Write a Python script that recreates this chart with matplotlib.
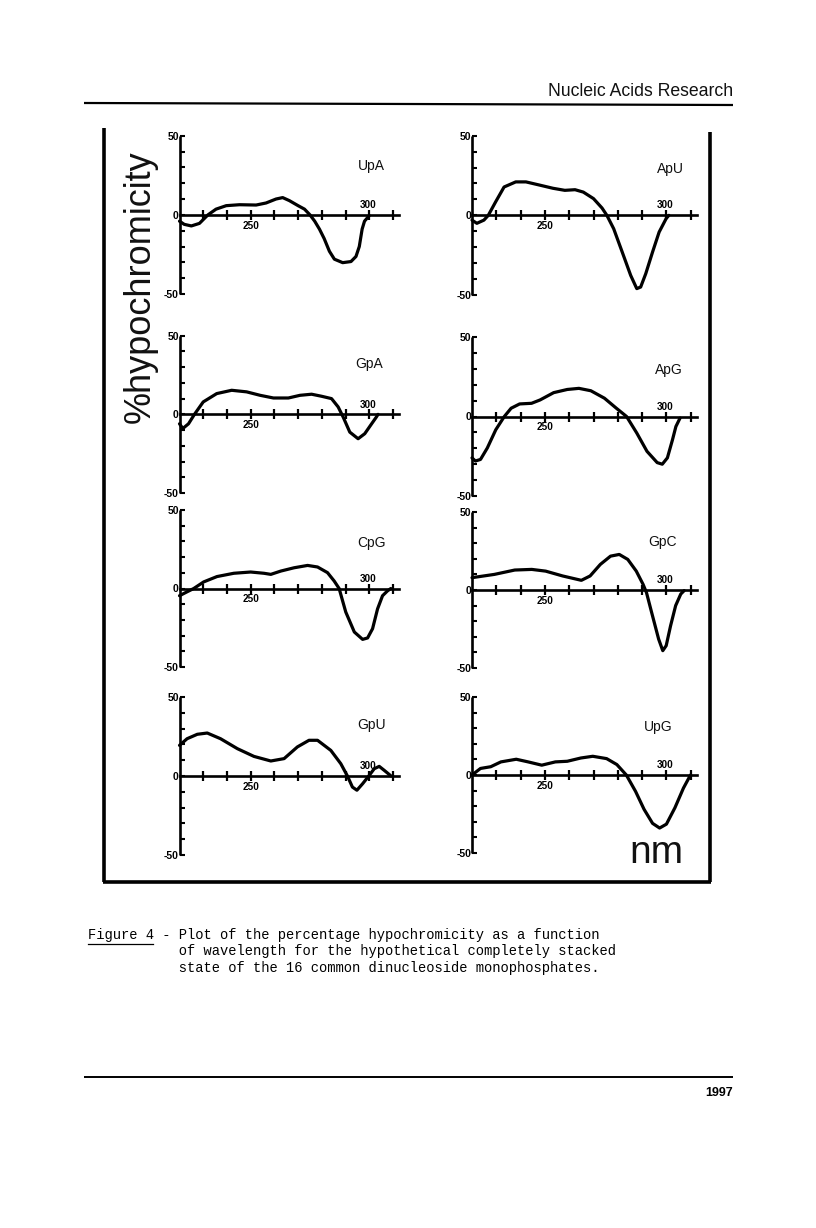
import matplotlib
matplotlib.use("Agg")
import matplotlib.pyplot as plt

# ---------------- data (wavelength in nm, % hypochromicity) ----------------
panel_names = ["UpA", "ApU", "GpA", "ApG", "CpG", "GpC", "GpU", "UpG"]

upa_nm = [220, 222, 225, 228.4, 232, 235.4, 239.7, 245.3, 252.3, 256.5, 260.7, 263.5, 266.3, 270, 272.7,
          275, 277, 279, 281, 283.2, 285.3, 288.8, 292.3, 294.4, 295.8, 297, 298, 300]
upa_pct = [-4, -6, -7, -5.4, 0, 3.6, 5.8, 6.4, 6.2, 7.5, 10, 10.9, 9, 5.8, 3.6,
           0, -4, -9, -15, -23, -28, -30.2, -29.5, -26.3, -20, -9, -4, -0.5]

apu_nm = [220, 222, 224.9, 226.7, 229.7, 233.2, 238, 242.2, 247.8, 253.3, 258.2, 262.4, 265.8, 270, 273.5,
          275.5, 278.3, 281.8, 285.3, 287.8, 289.4, 291.5, 294.3, 297, 299.9, 301]
apu_pct = [-3, -5, -3, 0, 8.4, 17.8, 21, 21, 19, 17, 15.7, 16.1, 14.6, 10.5, 4.6,
           0, -8.4, -23, -37.7, -46, -45, -36.6, -23, -10.5, -2, 0]

gpa_nm = [220, 221.4, 223.8, 226.3, 230, 235.7, 242, 248.3, 254, 259.6, 265.9, 270.8, 275.7, 279.9, 284.1,
          286.9, 289, 291.8, 295.3, 298.1, 301, 303, 303.7]
gpa_pct = [-6, -9, -6, 0, 7.9, 13.2, 15.3, 14.3, 12.1, 10.4, 10.4, 12.1, 12.8, 11.5, 10,
           4.7, -1.7, -11.3, -15.5, -12.3, -6, -1.7, 0]

apg_nm = [220, 221.4, 223.5, 226.3, 229.8, 233.3, 236.1, 239.6, 244.5, 248, 253.6, 259.2, 264, 268.9, 274.5,
          279.4, 283.6, 287.8, 292, 296.2, 298.3, 300.4, 302.5, 303.9, 305.6]
apg_pct = [-26, -28, -27, -19.8, -8.3, 0, 5.2, 7.9, 8.3, 10.4, 15, 17, 17.7, 16.2, 11.5,
           5.2, 0, -10.4, -21.9, -29, -30, -26, -14.6, -6.3, -1]

cpg_nm = [220, 223.2, 226, 230.2, 235.8, 242.9, 250, 255.6, 258.5, 262.7, 268.3, 274, 278.2, 282.4, 285.2,
          287.3, 290.1, 293.7, 297.2, 299.3, 301.4, 303.5, 305.6, 307.7, 309.1]
cpg_pct = [-4.6, -2.1, 0, 4.2, 7.6, 9.7, 10.5, 9.7, 9, 11.1, 13.2, 14.7, 13.7, 10.1, 4.8,
           0, -15, -27.7, -32.4, -31.5, -25.6, -13, -4.6, -1.5, 0]

gpc_nm = [220, 229.2, 237.6, 244.6, 250.3, 257.3, 265, 268.6, 272.8, 277, 280.6, 284.1, 287.6, 290.4, 291.8,
          293.9, 296.8, 298.5, 299.9, 301.7, 303.8, 305.9, 307.3]
gpc_pct = [7.9, 10, 12.8, 13.2, 12.1, 9, 6.2, 9, 16.4, 21.7, 22.8, 19.6, 12.1, 3.6, -1.7,
           -14.3, -31.5, -38.9, -35.7, -23, -10, -2.6, -0.4]

gpu_nm = [220, 223.2, 227.5, 231.7, 237.3, 244.4, 251.4, 258.5, 264.1, 269.7, 274.6, 278.2, 283.8, 288, 290.8,
          292.9, 294.8, 297.2, 300, 302.1, 304.2, 306.3, 309.2]
gpu_pct = [19.4, 23.6, 26.4, 27.2, 23.6, 17.3, 12.4, 9.5, 11, 18.4, 22.6, 22.6, 16.2, 7.8, 0,
           -7, -9, -4.9, 0.4, 4.6, 6.1, 3.6, 0]

upg_nm = [220, 223.5, 227.7, 231.9, 238.2, 243.1, 248.7, 254.3, 259.2, 264.8, 269.7, 275.4, 279.6, 283.5,
          287.3, 290.8, 294.3, 297.2, 300, 303.5, 307, 309.9]
upg_pct = [0, 4.2, 5.3, 8.4, 10.1, 8.4, 6.3, 8.4, 8.8, 10.9, 12, 10.5, 6.7, 0,
           -10.5, -22, -31, -34, -31.5, -21, -8.4, 0]

x_ticks = [230, 240, 250, 260, 270, 280, 290, 300, 310]
x_tick_labels = {250: "250", 300: "300"}
y_ticks = [-50, -40, -30, -20, -10, 0, 10, 20, 30, 40, 50]
y_tick_labels = ["-50", "", "", "", "", "0", "", "", "", "", "50"]

series = [(upa_nm, upa_pct), (apu_nm, apu_pct), (gpa_nm, gpa_pct), (apg_nm, apg_pct),
          (cpg_nm, cpg_pct), (gpc_nm, gpc_pct), (gpu_nm, gpu_pct), (upg_nm, upg_pct)]

caption_lines = [
    "Figure 4 - Plot of the percentage hypochromicity as a function",
    "           of wavelength for the hypothetical completely stacked",
    "           state of the 16 common dinucleoside monophosphates.",
]

# ---------------- figure ----------------
W, H = 816, 1228
fig = plt.figure(figsize=(W / 100, H / 100), dpi=100)
fig.patch.set_facecolor("white")

SANS = ["Liberation Sans", "DejaVu Sans"]

# overlay in pixel coordinates for page furniture
page = fig.add_axes([0, 0, 1, 1])
page.set_xlim(0, W)
page.set_ylim(H, 0)
page.axis("off")

# header
page.text(733, 91, "Nucleic Acids Research", ha="right", va="center", fontsize=12.7,
          family=SANS, color="#111111")
page.plot([84, 733], [103, 105], color="black", lw=1.6, solid_capstyle="butt")
# footer
page.plot([84, 733], [1077, 1077], color="black", lw=1.4, solid_capstyle="butt")
page.text(733, 1093, "1997", ha="right", va="center", fontsize=9, fontweight="bold", family=SANS)

# frame around the panels
page.plot([104, 104], [128, 882], color="black", lw=2.6, solid_capstyle="butt")
page.plot([710, 710], [132, 882], color="black", lw=2.6, solid_capstyle="butt")
page.plot([103, 711], [882, 882], color="black", lw=2.6, solid_capstyle="butt")

# big axis labels
page.text(140, 287, "%hypochromicity", rotation=90, ha="center", va="center",
          fontsize=26, family=SANS, color="#111111")
page.text(656, 853, "nm", ha="center", va="center", fontsize=28, family=SANS, color="#111111")

# caption (typewriter)
for i, line in enumerate(caption_lines):
    page.text(88, 935 + i * 16.5, line, ha="left", va="center", fontsize=9.9,
              family=["Liberation Mono", "DejaVu Sans Mono"], color="black")
page.plot([88, 153], [944, 944], color="black", lw=0.9)

# ---------------- panels ----------------
col_geom = [(179.5, 219.4), (472.0, 224.8)]
row_geom = [[(135.7, 294.0), (135.7, 295.0)],
            [(335.7, 493.0), (337.0, 496.0)],
            [(510.0, 667.0), (512.0, 668.0)],
            [(697.0, 855.0), (697.0, 853.0)]]
label_pos = [(301, 31), (301.5, 29), (300, 32), (301, 29), (301, 29), (298.5, 31), (301, 32), (296.5, 31)]

for k, (name, (nm, pct)) in enumerate(zip(panel_names, series)):
    r, c = divmod(k, 2)
    x0, w = col_geom[c]
    top, bot = row_geom[r][c]
    ax = fig.add_axes([x0 / W, 1 - bot / H, w / W, (bot - top) / H])
    ax.set_facecolor("none")
    ax.set_xlim(220, 312.5)
    ax.set_ylim(-50, 50)
    for s in ("top", "right"):
        ax.spines[s].set_visible(False)
    ax.spines["bottom"].set_position(("data", 0))
    ax.spines["bottom"].set_linewidth(1.9)
    ax.spines["left"].set_linewidth(1.9)
    ax.spines["left"].set_capstyle("butt")

    ax.set_xticks(x_ticks)
    ax.set_xticklabels([])
    ax.tick_params(axis="x", direction="inout", length=7, width=1.6, color="black")
    ax.set_yticks(y_ticks)
    ax.set_yticklabels(y_tick_labels)
    ax.tick_params(axis="y", direction="in", length=3.5, width=1.5, pad=0.5,
                   labelsize=7.5, color="black")
    for t in ax.get_yticklabels():
        t.set_fontweight("bold")
        t.set_family(SANS)

    for xv, lab in x_tick_labels.items():
        if xv == 250:
            ax.text(xv, -6.8, lab, ha="center", va="center", fontsize=7.2, fontweight="bold", family=SANS)
        else:
            ax.text(xv - 0.5, 6.2, lab, ha="center", va="center", fontsize=7.2, fontweight="bold", family=SANS)

    ax.plot(nm, pct, color="black", lw=2.3, solid_joinstyle="round", solid_capstyle="round", clip_on=False)
    lx, ly = label_pos[k]
    ax.text(lx, ly, name, ha="center", va="center", fontsize=10, family=SANS, color="#111111")

fig.savefig("out.png", dpi=100, facecolor="white")
